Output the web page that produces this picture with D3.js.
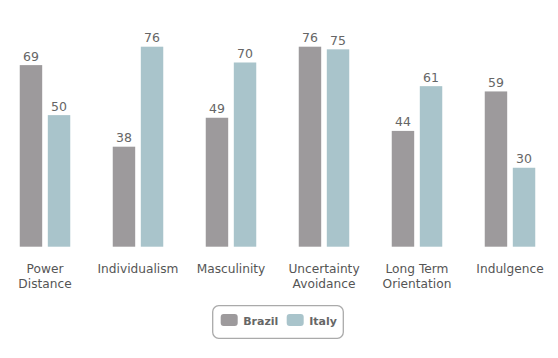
<!DOCTYPE html>
<html>
<head>
<meta charset="utf-8">
<script src="https://cdn.jsdelivr.net/npm/d3@7"></script>
<style>
  body { margin: 0; background: #fff; }
  svg { display: block; font-family: "DejaVu Sans", sans-serif; }
</style>
</head>
<body>
<div id="viz"></div>
<script>
const categories = ['Power Distance', 'Individualism', 'Masculinity', 'Uncertainty Avoidance', 'Long Term Orientation', 'Indulgence'];
const labelLines = [['Power', 'Distance'], ['Individualism'], ['Masculinity'], ['Uncertainty', 'Avoidance'], ['Long Term', 'Orientation'], ['Indulgence']];
const seriesNames = ['Brazil', 'Italy'];
const brazil = [69, 38, 49, 76, 44, 59];
const italy = [50, 76, 70, 75, 61, 30];

const width = 558;
const height = 358;
const baseline = 246.7;

const colorScale = d3.scaleOrdinal()
  .domain(seriesNames)
  .range(['#9d9a9c', '#a9c4cb']);

const data = categories.map((c, i) => ({ cat: c, values: [brazil[i], italy[i]] }));

const svg = d3.select('#viz').append('svg')
  .attr('width', width)
  .attr('height', height);

const x0 = d3.scaleBand()
  .domain(categories)
  .range([-1.5, 556.5])
  .paddingInner(0.457)
  .paddingOuter(0.2285);

const x1 = d3.scaleBand()
  .domain(seriesNames)
  .range([0, x0.bandwidth()])
  .paddingInner(0.2);

// 76 -> top at ~46.7
const yScale = d3.scaleLinear()
  .domain([0, 76])
  .range([baseline, 46.7]);

const groups = svg.selectAll('.group')
  .data(data)
  .enter().append('g')
  .attr('class', 'group')
  .attr('transform', d => `translate(${x0(d.cat)},0)`);

groups.selectAll('rect')
  .data(d => d.values.map((v, i) => ({ key: seriesNames[i], value: v })))
  .enter().append('rect')
  .attr('x', d => x1(d.key))
  .attr('y', d => yScale(d.value))
  .attr('width', x1.bandwidth())
  .attr('height', d => baseline - yScale(d.value))
  .style('fill', d => colorScale(d.key));

groups.selectAll('.val')
  .data(d => d.values.map((v, i) => ({ key: seriesNames[i], value: v })))
  .enter().append('text')
  .attr('class', 'val')
  .attr('x', d => x1(d.key) + x1.bandwidth() / 2)
  .attr('y', d => yScale(d.value) - 4.5)
  .attr('text-anchor', 'middle')
  .style('font-size', '12.5px')
  .style('fill', '#666')
  .text(d => d.value);

// Category labels
groups.append('text')
  .attr('x', x0.bandwidth() / 2)
  .attr('y', 273)
  .attr('text-anchor', 'middle')
  .style('font-size', '12.2px')
  .style('fill', '#555')
  .selectAll('tspan')
  .data((d, i) => labelLines[i])
  .enter().append('tspan')
  .attr('x', x0.bandwidth() / 2)
  .attr('dy', (d, i) => i === 0 ? 0 : 14.5)
  .text(d => d);

// Legend
const legend = svg.append('g')
  .attr('class', 'legend')
  .attr('transform', 'translate(212.7,305.7)');

legend.append('rect')
  .attr('width', 130.6)
  .attr('height', 32.6)
  .attr('rx', 6)
  .style('fill', '#fff')
  .style('stroke', '#aaa')
  .style('stroke-width', 1.3);

const legendItem = legend.selectAll('.legend-item')
  .data(seriesNames)
  .enter().append('g')
  .attr('class', 'legend-item')
  .attr('transform', (d, i) => `translate(${8 + i * 66},8.3)`);

legendItem.append('rect')
  .attr('width', 17)
  .attr('height', 12)
  .attr('rx', 3)
  .style('fill', d => colorScale(d));

legendItem.append('text')
  .attr('x', 22.5)
  .attr('y', 11)
  .style('font-size', '11px')
  .style('font-weight', 'bold')
  .style('fill', '#666')
  .text(d => d);
</script>
</body>
</html>
